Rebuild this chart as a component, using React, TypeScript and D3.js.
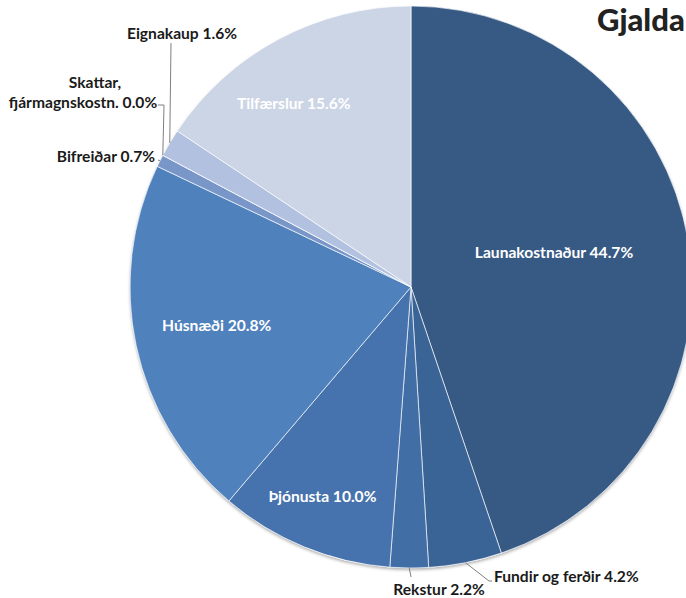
import React from 'react';
import * as d3 from 'd3';

const categories = ['Launakostnaður', 'Fundir og ferðir', 'Rekstur', 'Þjónusta', 'Húsnæði', 'Bifreiðar', 'Skattar, fjármagnskostn.', 'Eignakaup', 'Tilfærslur'];
const shares = [44.7, 4.2, 2.2, 10.0, 20.8, 0.7, 0.0, 1.6, 15.6];
const colors = ['#375a84', '#3b6496', '#416ea5', '#4673ad', '#4f81bd', '#7896c8', '#95acd6', '#b1c1df', '#ccd5e6'];
const title = 'Gjalda';

const W = 686, H = 598;
const cx = 411, cy = 287, R = 281;

// inside labels: [radius from centre, angular nudge in degrees]; outside labels: leader path + text spot
const inside: Record<number, [number, number]> = { 0: [147, -4], 3: [227, 0.6], 4: [198, 1], 8: [218, -4.4] };
const outside: Record<number, { pts: [number, number][]; x: number[]; y: number[]; anchor: string }> = {
  1: { pts: [[489, 581], [492, 581]], x: [494], y: [582], anchor: 'start' },
  2: { pts: [[411, 577]], x: [439], y: [595], anchor: 'middle' },
  5: { pts: [[158, 160]], x: [155], y: [162], anchor: 'end' },
  6: { pts: [[164, 105], [158, 105]], x: [95, 83], y: [88, 108], anchor: 'middle' },
  7: { pts: [[171, 43]], x: [182], y: [39], anchor: 'middle' },
};

const fmt = (v: number) => v.toFixed(1) + '%';

export default function App() {
  const pie = d3.pie<number>().sort(null).value(d => d);
  const arcs = pie(shares);
  const arc = d3.arc<d3.PieArcDatum<number>>().innerRadius(0).outerRadius(R);
  const font = "'Lato', 'Open Sans', sans-serif";
  const fs = 15.6;

  return (
    <svg width={W} height={H} style={{ position: 'absolute', left: 0, top: 0, background: '#fff' }}>
      <defs>
        <filter id="sh" x="-10%" y="-10%" width="120%" height="120%">
          <feDropShadow dx="0" dy="2" stdDeviation="1.5" floodColor="#000" floodOpacity="0.3" />
        </filter>
      </defs>
      <g transform={`translate(${cx},${cy})`}>
        <circle r={R} fill="#fff" filter="url(#sh)" />
        {arcs.map((a, i) => (
          <path key={i} d={arc(a) || ''} fill={colors[i]} stroke="#fff" strokeWidth={0.8} strokeOpacity={0.8} />
        ))}
      </g>
      {arcs.map((a, i) => {
        const mid = (a.startAngle + a.endAngle) / 2;
        const label = categories[i] + ' ' + fmt(shares[i]);
        if (inside[i] !== undefined) {
          const [r, nudge] = inside[i];
          const ang = mid + (nudge * Math.PI) / 180;
          return (
            <text key={i} x={cx + r * Math.sin(ang)} y={cy - r * Math.cos(ang) + 5.5} textAnchor="middle"
              fontFamily={font} fontWeight="bold" fontSize={fs} fill="#fff">{label}</text>
          );
        }
        const o = outside[i];
        const ex = cx + R * Math.sin(mid), ey = cy - R * Math.cos(mid);
        const line = d3.line()([[ex, ey], ...o.pts]);
        const lines = i === 6 ? ['Skattar,', 'fjármagnskostn. ' + fmt(shares[i])] : [label];
        return (
          <g key={i}>
            <path d={line || ''} fill="none" stroke="#7f7f7f" strokeWidth={1} />
            {lines.map((t, k) => (
              <text key={k} x={o.x[k]} y={o.y[k]} textAnchor={o.anchor} fontFamily={font} fontWeight="bold"
                fontSize={fs} fill="#1a1a1a">{t}</text>
            ))}
          </g>
        );
      })}
      <text x={597} y={31} fontFamily={font} fontWeight="900" fontSize={31} fill="#222">{title}</text>
    </svg>
  );
}
